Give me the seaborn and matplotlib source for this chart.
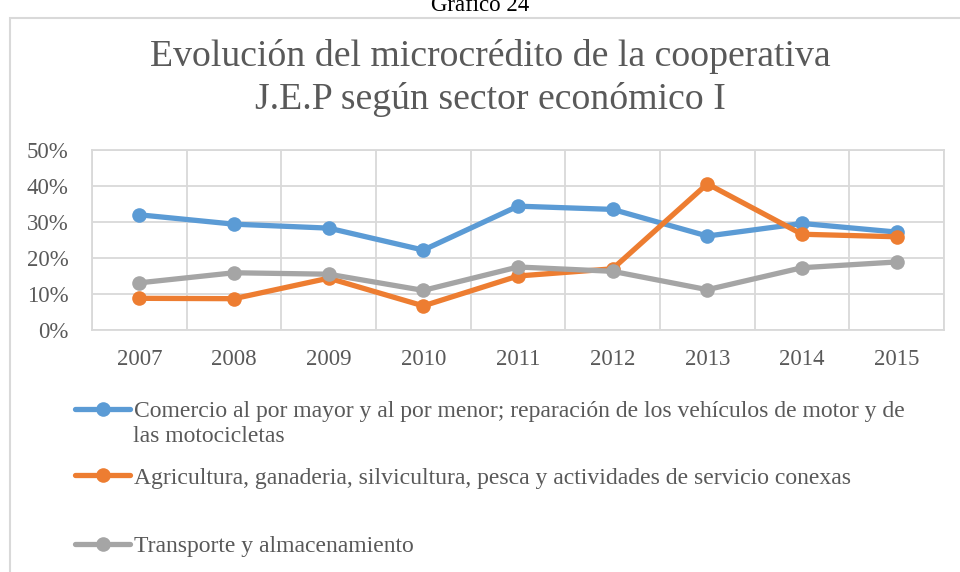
import matplotlib
matplotlib.use("Agg")
import matplotlib.pyplot as plt
import matplotlib.patches as mpatches
from matplotlib.ticker import FuncFormatter, FixedLocator
import seaborn as sns
import pandas as pd
import numpy as np

years = [2007, 2008, 2009, 2010, 2011, 2012, 2013, 2014, 2015]
comercio = [0.320, 0.294, 0.283, 0.222, 0.344, 0.335, 0.261, 0.296, 0.272]
agricultura = [0.088, 0.087, 0.144, 0.067, 0.150, 0.170, 0.406, 0.266, 0.259]
transporte = [0.131, 0.159, 0.155, 0.110, 0.175, 0.163, 0.112, 0.173, 0.189]

series_names = [
    "Comercio al por mayor y al por menor; reparación de los vehículos de motor y de",
    "Agricultura, ganaderia, silvicultura, pesca y actividades de servicio conexas",
    "Transporte y almacenamiento",
]
continuation = "las motocicletas"
colors = ["#5B9BD5", "#ED7D31", "#A5A5A5"]
yticks = [0.0, 0.1, 0.2, 0.3, 0.4, 0.5]
title_text = "Evolución del microcrédito de la cooperativa\nJ.E.P según sector económico I"
caption = "Gráfico 24"

df = pd.concat([
    pd.DataFrame({"year": years, "value": vals, "series": name})
    for name, vals in zip(series_names, [comercio, agricultura, transporte])
])

sns.set_theme(style="white")
plt.rcParams["font.family"] = ["Liberation Serif", "DejaVu Serif"]
TXT = "#595959"
GRID = "#D9D9D9"

fig = plt.figure(figsize=(9.6, 5.72), dpi=100)
W, H = 960, 572
ax = fig.add_axes([92 / W, 1 - 330 / H, (944 - 92) / W, (330 - 150) / H])

sns.lineplot(data=df, x="year", y="value", hue="series", hue_order=series_names,
             palette=colors, marker="o", markersize=10.5, markeredgewidth=0,
             linewidth=3.8, legend=False, ax=ax, zorder=3, sort=False)

ax.set_xlim(years[0] - 0.5, years[-1] + 0.5)
ax.set_ylim(0, 0.5)
ax.set_xticks(years)
ax.set_xticklabels([str(y) for y in years])
ax.xaxis.set_minor_locator(FixedLocator([y - 0.5 for y in years] + [years[-1] + 0.5]))
ax.set_yticks(yticks)
ax.yaxis.set_major_formatter(FuncFormatter(lambda v, p: f"{v*100:.0f}%"))
ax.grid(True, which="major", axis="y", color=GRID, linewidth=1.3)
ax.grid(True, which="minor", axis="x", color=GRID, linewidth=1.3)
ax.grid(False, which="major", axis="x")
ax.set_axisbelow(True)
for s in ax.spines.values():
    s.set_color(GRID)
    s.set_linewidth(1.3)
ax.tick_params(axis="both", which="both", length=0, labelsize=16.5, colors=TXT)
ax.tick_params(axis="y", pad=17)
ax.tick_params(axis="x", pad=14)
ax.set_xlabel("")
ax.set_ylabel("")

# chart border
fig.add_artist(mpatches.Rectangle((10 / W, -0.1), 1.2, 1 - 18 / H + 0.1,
                                  transform=fig.transFigure, fill=False,
                                  edgecolor=GRID, linewidth=1.5, clip_on=False))

fig.text(0.5, 1 - 11 / H, caption, ha="center", va="baseline", fontsize=16.5, color="black")
fig.text(490 / W, 1 - 78 / H, title_text, ha="center", va="center", fontsize=27.2,
         color=TXT, linespacing=1.28)

lines = ax.get_lines()[:3]
legend_y = [411, 478, 546]
for ln, name, yy in zip(lines, series_names, legend_y):
    leg = fig.legend([ln], [name], loc="center left",
                     bbox_to_anchor=(75 / W, 1 - yy / H), frameon=False,
                     fontsize=17, handlelength=2.35, handletextpad=0.15,
                     borderpad=0, borderaxespad=0)
    for t in leg.get_texts():
        t.set_color(TXT)
fig.text(133 / W, 1 - 437 / H, continuation, ha="left", va="center", fontsize=17, color=TXT)

fig.savefig("out.png", dpi=100)
